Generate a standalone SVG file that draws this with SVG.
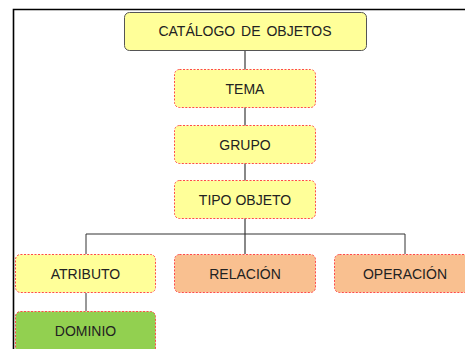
<svg xmlns="http://www.w3.org/2000/svg" width="465" height="349" viewBox="0 0 465 349">
<style>
.box{stroke:#ff4a4a;stroke-width:1;stroke-dasharray:2,1.5}
.y{fill:#ffff99}
.o{fill:#f9c090}
.g{fill:#92d050}
text{font-family:"Liberation Sans",Arial,sans-serif;font-size:14px;fill:#222;text-anchor:middle;dominant-baseline:central}
.ln{stroke:#333;stroke-width:1;fill:none}
.gl{stroke:#888;stroke-width:2;fill:none}
</style>
<rect x="0" y="0" width="465" height="349" fill="#fff"/>
<path d="M13.5,349 V9.5 H465" fill="none" stroke="#000" stroke-width="1.6"/>
<g id="connectors">
<line class="gl" x1="245" y1="50" x2="245" y2="254"/>
<path class="ln" d="M86,254 V234 H405 V254"/>
<line class="ln" x1="86" y1="293" x2="86" y2="311"/>
</g>
<g id="catalogo">
<rect x="124.5" y="12.5" width="242" height="38" rx="5" fill="#ffff99" stroke="#555" stroke-width="1"/>
<text x="245" y="31" word-spacing="2">CATÁLOGO DE OBJETOS</text>
</g>
<g id="tema">
<rect class="box y" x="174.5" y="69.5" width="141" height="38" rx="5"/>
<text x="245" y="88.5">TEMA</text>
</g>
<g id="grupo">
<rect class="box y" x="174.5" y="125.5" width="141" height="38" rx="5"/>
<text x="245" y="144.5">GRUPO</text>
</g>
<g id="tipo-objeto">
<rect class="box y" x="174.5" y="180.5" width="141" height="38" rx="5"/>
<text x="245" y="199.5">TIPO OBJETO</text>
</g>
<g id="atributo">
<rect class="box y" x="15.5" y="254.5" width="140" height="38" rx="5"/>
<text x="85.5" y="273.5">ATRIBUTO</text>
</g>
<g id="relacion">
<rect class="box o" x="174.5" y="254.5" width="141" height="38" rx="5"/>
<text x="245" y="273.5">RELACIÓN</text>
</g>
<g id="operacion">
<rect class="box o" x="334.5" y="254.5" width="141" height="38" rx="5"/>
<text x="405" y="273.5">OPERACIÓN</text>
</g>
<g id="dominio">
<rect class="box g" x="15.5" y="311.5" width="140" height="45" rx="5"/>
<text x="85.5" y="331">DOMINIO</text>
</g>
</svg>
